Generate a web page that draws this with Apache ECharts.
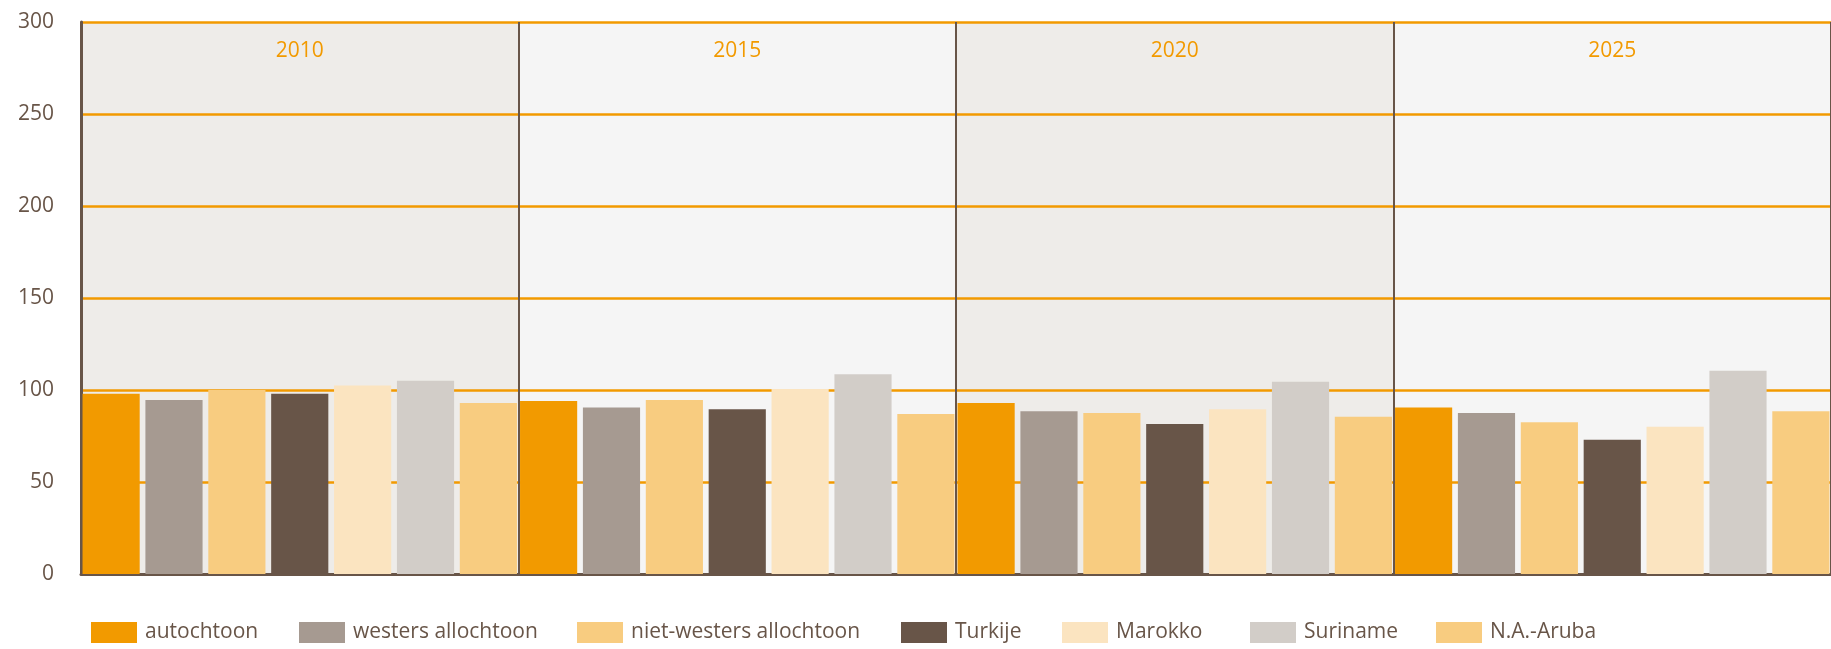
<!DOCTYPE html>
<html>
<head>
<meta charset="utf-8">
<script src="https://cdn.jsdelivr.net/npm/echarts@6/dist/echarts.min.js"></script>
<style>
html,body{margin:0;padding:0;background:#fff;}
#chart{width:1831px;height:649px;}
</style>
</head>
<body>
<div id="chart"></div>
<script>
var years = ['2010', '2015', '2020', '2025'];
var groupNames = ['autochtoon', 'westers allochtoon', 'niet-westers allochtoon', 'Turkije', 'Marokko', 'Suriname', 'N.A.-Aruba'];
var autochtoon = [98, 94, 93, 90.5];
var westers = [94.5, 90.5, 88.5, 87.5];
var nietWesters = [100, 94.5, 87.5, 82.5];
var turkije = [98, 89.5, 81.5, 73];
var marokko = [102.5, 100.5, 89.5, 80];
var suriname = [105, 108.5, 104.5, 110.5];
var naAruba = [93, 87, 85.5, 88.5];
var yTicks = [0, 50, 100, 150, 200, 250, 300];

var colorList = ['#F29A00', '#A69A91', '#F8CC80', '#685548', '#FBE4C0', '#D2CDC8', '#F8CC80'];
var seriesData = [autochtoon, westers, nietWesters, turkije, marokko, suriname, naAruba];
// x positie van elk legend-item (px)
var legendLeft = [91, 299, 577, 901, 1062, 1250, 1436];

var brown = '#685548';
var fontFam = '"Open Sans", sans-serif';

function initEcharts() {
	var series = [];
	var legends = [];
	for (var i = 0; i < groupNames.length; i++) {
		series.push({
			name: groupNames[i],
			type: 'bar',
			xAxisIndex: 0,
			z: 3,
			data: seriesData[i],
			barGap: '10%',
			barCategoryGap: '0.7%',
			itemStyle: {color: colorList[i]}
		});
		legends.push({
			left: legendLeft[i],
			bottom: 6,
			padding: 0,
			itemWidth: 46,
			itemHeight: 21,
			icon: 'rect',
			data: [groupNames[i]],
			textStyle: {
				color: brown,
				fontSize: 21,
				fontFamily: fontFam,
				padding: [0, 0, 0, 3]
			}
		});
	}
	var option = {
		color: colorList,
		animation: false,
		grid: {
			top: 22,
			left: 81,
			right: 0,
			bottom: 75
		},
		legend: legends,
		xAxis: [
			{
				// panels + baseline
				type: 'category',
				data: years,
				position: 'bottom',
				z: 0,
				axisLine: {lineStyle: {color: brown, width: 3}},
				axisTick: {show: false},
				axisLabel: {show: false},
				splitLine: {show: false},
				splitArea: {show: true, areaStyle: {color: ['#EEECE9', '#F5F5F5']}}
			},
			{
				// year labels + dividers
				type: 'category',
				data: years,
				position: 'top',
				z: 2,
				axisLine: {show: false},
				axisTick: {show: false},
				splitLine: {show: true, lineStyle: {color: brown, width: 2}},
				axisLabel: {
					inside: true,
					margin: 19,
					color: '#F29A00',
					fontSize: 21,
					fontFamily: fontFam
				}
			}
		],
		yAxis: {
			type: 'value',
			min: yTicks[0],
			max: yTicks[yTicks.length - 1],
			interval: 50,
			z: 1,
			axisLine: {show: true, lineStyle: {color: brown, width: 3}},
			axisTick: {show: false},
			axisLabel: {
				color: brown,
				fontSize: 21,
				fontFamily: fontFam,
				margin: 27
			},
			splitLine: {
				showMinLine: false,
				lineStyle: {color: '#F29A00', width: 2.5}
			}
		},
		series: series
	};
	var myChart = echarts.init(document.getElementById('chart'));
	myChart.setOption(option);
	window.addEventListener('resize', function () {
		myChart.resize();
	});
}
initEcharts();
</script>
</body>
</html>
